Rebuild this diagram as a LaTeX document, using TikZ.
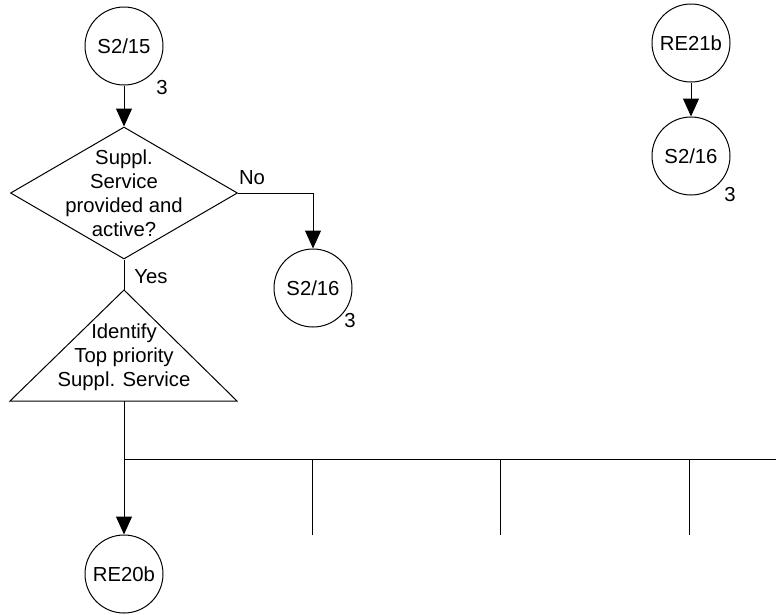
\documentclass[tikz,border=0pt]{standalone}
\usepackage{fontspec}
\setmainfont{Liberation Sans}
\usetikzlibrary{arrows.meta,shapes.geometric}
\begin{document}
\begin{tikzpicture}[x=1pt,y=-1pt,
  every node/.style={font=\fontsize{20.3}{24}\selectfont, inner sep=0pt},
  conn/.style={draw=black, line width=1pt},
  flow/.style={conn, -{Triangle[width=16pt,length=18pt]}},
  refcircle/.style={circle, draw=black, line width=1pt, minimum size=78pt},
  decision/.style={diamond, draw=black, line width=1pt, minimum width=227pt, minimum height=132pt},
  boxtext/.style={align=center},
  sheetref/.style={anchor=center}]
  \useasboundingbox (0,0) rectangle (776,614);

  % left column: entry, decision, task
  \node[refcircle] (s215) at (124,46) {S2/15};
  \node[sheetref] (s215n) at (162,88) {3};

  \node[decision] (dec) at (124,193) {};
  \node[boxtext] (dectext) at (124,193) {Suppl.\\Service\\provided and\\active?};

  \node[refcircle] (s216a) at (313,288) {S2/16};
  \node[sheetref] (s216an) at (350,321) {3};

  \coordinate (triTop) at (124,290);
  \coordinate (triLeft) at (10,401);
  \coordinate (triRight) at (237,401);
  \coordinate (triBase) at (124,401);
  \draw[conn, line join=miter] (triTop) -- (triLeft) -- (triRight) -- cycle;
  \node[boxtext] (tritext) at (124,357) {Identify\\Top priority\\Suppl. Service};

  \node[refcircle] (re20b) at (124,574) {RE20b};

  % right column
  \node[refcircle] (re21b) at (691,43) {RE21b};
  \node[refcircle] (s216b) at (691,156) {S2/16};
  \node[sheetref] (s216bn) at (730,195) {3};

  % connectors
  \draw[flow] (s215) -- (dec.north);
  \coordinate (noCorner) at (313,193);
  \draw[flow] (dec.east) -- (noCorner) -- (s216a);
  \node (nolbl) at (252,178) {No};

  \draw[conn] (dec.south) -- (triTop);
  \node (yeslbl) at (151,277) {Yes};

  \draw[flow] (triBase) -- (re20b);

  % branch bar
  \coordinate (barL) at (124,459);
  \coordinate (barR) at (776,459);
  \coordinate (b1t) at (312,459);
  \coordinate (b1b) at (312,535);
  \coordinate (b2t) at (500,459);
  \coordinate (b2b) at (500,535);
  \coordinate (b3t) at (689,459);
  \coordinate (b3b) at (689,535);
  \draw[conn] (barL) -- (barR);
  \draw[conn] (b1t) -- (b1b);
  \draw[conn] (b2t) -- (b2b);
  \draw[conn] (b3t) -- (b3b);

  \draw[flow] (re21b) -- (s216b);
\end{tikzpicture}
\end{document}
